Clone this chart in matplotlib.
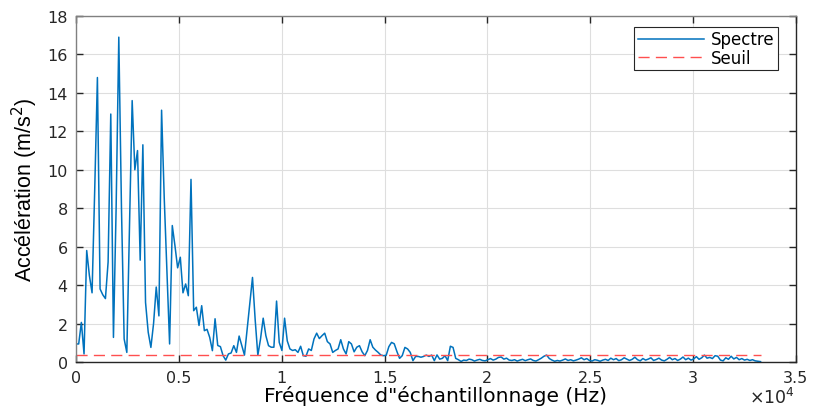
import numpy as np
import matplotlib.pyplot as plt
from matplotlib.ticker import FuncFormatter

# Spectre d'accélération : pas fréquentiel de 130 Hz
df = 130.0
spectre = [
    0.94, 0.94, 2.06, 0.42, 5.80, 4.50, 3.60, 9.00, 14.80, 3.80,
    3.50, 3.30, 5.20, 12.90, 1.28, 8.00, 16.90, 8.00, 1.20, 0.50,
    7.00, 13.60, 10.00, 11.00, 5.30, 11.30, 3.10, 1.55, 0.76, 2.00,
    3.90, 2.40, 13.10, 8.50, 4.70, 0.94, 7.10, 6.05, 4.90, 5.45,
    3.60, 4.06, 3.45, 9.50, 2.67, 2.85, 1.90, 2.93, 1.63, 1.70,
    1.28, 0.59, 2.25, 0.86, 0.80, 0.33, 0.10, 0.42, 0.47, 0.85,
    0.50, 1.35, 0.85, 0.36, 1.70, 3.00, 4.40, 2.20, 0.35, 1.20,
    2.28, 1.37, 0.85, 0.77, 0.77, 3.17, 1.02, 0.60, 2.28, 1.10,
    0.68, 0.60, 0.64, 0.50, 0.82, 0.33, 0.30, 0.68, 0.60, 1.20,
    1.50, 1.22, 1.37, 1.50, 1.06, 0.94, 0.50, 0.60, 0.68, 1.16,
    0.68, 0.42, 1.06, 0.94, 0.53, 0.77, 0.85, 0.53, 0.33, 0.60,
    1.16, 0.77, 0.62, 0.50, 0.36, 0.33, 0.35, 0.80, 1.02, 0.95,
    0.55, 0.19, 0.33, 0.76, 0.68, 0.50, 0.07, 0.29, 0.29, 0.25,
    0.29, 0.36, 0.29, 0.36, 0.07, 0.37, 0.15, 0.19, 0.33, 0.07,
    0.82, 0.76, 0.19, 0.12, 0.03, 0.10, 0.08, 0.15, 0.12, 0.05,
    0.10, 0.14, 0.08, 0.06, 0.12, 0.18, 0.10, 0.15, 0.24, 0.26,
    0.15, 0.20, 0.10, 0.08, 0.12, 0.05, 0.10, 0.14, 0.07, 0.12,
    0.16, 0.08, 0.05, 0.12, 0.20, 0.30, 0.36, 0.18, 0.10, 0.04,
    0.08, 0.05, 0.10, 0.16, 0.08, 0.12, 0.06, 0.10, 0.15, 0.22,
    0.12, 0.18, 0.08, 0.05, 0.12, 0.09, 0.04, 0.10, 0.14, 0.08,
    0.20, 0.12, 0.18, 0.07, 0.12, 0.22, 0.15, 0.08, 0.14, 0.25,
    0.12, 0.06, 0.18, 0.10, 0.15, 0.22, 0.08, 0.13, 0.20, 0.10,
    0.06, 0.14, 0.24, 0.12, 0.18, 0.08, 0.15, 0.26, 0.12, 0.20,
    0.10, 0.16, 0.28, 0.14, 0.22, 0.36, 0.20, 0.24, 0.18, 0.33,
    0.30, 0.10, 0.06, 0.22, 0.14, 0.30, 0.16, 0.24, 0.12, 0.18,
    0.10, 0.14, 0.08, 0.12, 0.06, 0.04, 0.02,
]
seuil = 0.37

freq = np.arange(len(spectre)) * df

plt.rcParams['font.family'] = ['DejaVu Sans']

fig = plt.figure(figsize=(8.13, 4.10), dpi=100)
ax = fig.add_axes([0.0935, 0.1146, 0.8855, 0.8439])

ax.plot(freq, spectre, color='#0072BD', lw=1.1, label='Spectre')
ax.plot(freq, np.full(len(freq), seuil), color='#ff4f4f', lw=1.0,
        ls=(0, (8, 4.5)), label='Seuil')

ax.set_xlim(0, 35000)
ax.set_ylim(0, 18)
ax.set_xticks(np.arange(0, 35001, 5000))
ax.set_yticks(np.arange(0, 19, 2))
ax.xaxis.set_major_formatter(FuncFormatter(lambda v, p: f'{v / 1e4:g}'))

ax.grid(True, color='#dedede', lw=0.8)
ax.set_axisbelow(True)
ax.tick_params(direction='in', length=5, width=1, top=True, right=True,
               labelsize=11.5, colors='#262626', pad=6)
for side in ['bottom', 'right']:
    ax.spines[side].set_color('#262626')
for side in ['top', 'left']:
    ax.spines[side].set_color('#808080')
for s in ax.spines.values():
    s.set_linewidth(1.0)

ax.set_xlabel('Fréquence d"échantillonnage (Hz)', fontsize=14.5, labelpad=0)
ax.set_ylabel('Accélération (m/s$^2$)', fontsize=15.5, labelpad=5,
              family=['Liberation Sans', 'DejaVu Sans'])
fig.text(795 / 813, 6 / 410, r'$\times10^4$', ha='right', va='baseline',
         fontsize=12.5, color='#262626')

leg = ax.legend(loc='upper right', bbox_to_anchor=(0.975, 0.968),
                fontsize=12, fancybox=False, edgecolor='#262626',
                framealpha=1, handlelength=4.0, borderaxespad=0,
                labelspacing=0.02, borderpad=0.2, handletextpad=0.4)
leg.get_frame().set_linewidth(0.8)

fig.savefig('out.png', dpi=100)
